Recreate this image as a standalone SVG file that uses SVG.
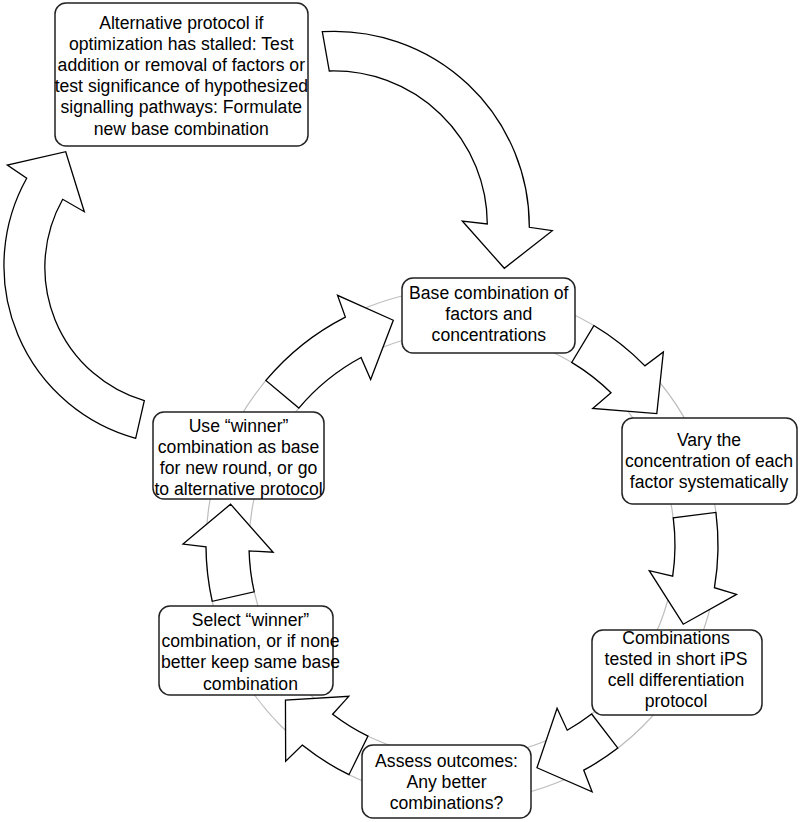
<svg xmlns="http://www.w3.org/2000/svg" width="800" height="822" viewBox="0 0 800 822">
<style>
.ring{fill:none;stroke:#bdbdbd;stroke-width:1.2}
.arr{fill:#fff;stroke:#000;stroke-width:1.3;stroke-linejoin:miter}
.box{fill:#fff;stroke:#222;stroke-width:1.5}
text{font-family:"Liberation Sans",Arial,sans-serif;font-size:17.6px;fill:#000;text-anchor:middle}
</style>
<rect width="800" height="822" fill="#fff"/>
<g id="ring">
<circle class="ring" cx="462" cy="545" r="256"/>
<circle class="ring" cx="462" cy="545" r="213"/>
</g>
<g id="connectors">
<path class="arr" d="M265.89,380.45 A256,256 0 0 1 345.38,317.11 L337.51,295.31 L393.29,320.27 L370.66,379.54 L361.02,357.46 A213,213 0 0 0 298.83,408.09 Z"/>
<path class="arr" d="M593.85,325.56 A256,256 0 0 1 644.90,365.89 L663.37,351.89 L656.82,413.59 L592.73,408.51 L611.03,392.82 A213,213 0 0 0 571.70,362.42 Z"/>
<path class="arr" d="M715.92,512.47 A256,256 0 0 1 714.42,587.69 L736.59,594.41 L683.25,624.22 L649.25,570.65 L672.71,576.12 A213,213 0 0 0 673.27,517.93 Z"/>
<path class="arr" d="M617.84,748.10 A256,256 0 0 1 583.76,770.19 L592.12,791.80 L536.96,767.73 L557.07,708.35 L567.21,730.20 A213,213 0 0 0 591.67,713.98 Z"/>
<path class="arr" d="M348.98,774.70 A256,256 0 0 1 302.29,745.07 L285.66,761.21 L285.45,700.10 L348.79,696.34 L332.63,714.21 A213,213 0 0 0 367.97,736.12 Z"/>
<path class="arr" d="M212.26,601.28 A256,256 0 0 1 206.01,546.79 L183.00,544.03 L230.57,504.19 L273.14,552.26 L249.08,550.95 A213,213 0 0 0 254.21,591.83 Z"/>
<path class="arr" d="M322.3,31.7 A195,195 0 0 1 529.3,227.3 L552.3,230.7 L504.3,268.3 L462.3,221 L487.3,224 A153.5,153.5 0 0 0 329.3,71 Z"/>
<path class="arr" d="M135.7,438.3 A179,179 0 0 1 26.7,178.3 L7.3,165 L65.7,151.7 L84.3,211.7 L62.7,199.3 A139,139 0 0 0 144.3,400.7 Z"/>
</g>
<g id="node-alternative">
<rect class="box" x="55" y="3" width="253" height="143" rx="11"/>
<text x="181.3" y="28.5">Alternative protocol if</text>
<text x="181.3" y="49.7">optimization has stalled: Test</text>
<text x="181.3" y="70.9">addition or removal of factors or</text>
<text x="181.3" y="92.1">test significance of hypothesized</text>
<text x="181.3" y="113.3">signalling pathways: Formulate</text>
<text x="181.3" y="134.5">new base combination</text>
</g>
<g id="node-base">
<rect class="box" x="402" y="278" width="173" height="75" rx="11"/>
<text x="488.8" y="298.7">Base combination of</text>
<text x="488.8" y="319.9">factors and</text>
<text x="488.8" y="341.1">concentrations</text>
</g>
<g id="node-vary">
<rect class="box" x="622" y="418" width="175" height="86" rx="11"/>
<text x="709" y="446">Vary the</text>
<text x="709" y="467.2">concentration of each</text>
<text x="709" y="488.4">factor systematically</text>
</g>
<g id="node-combinations">
<rect class="box" x="592" y="630" width="170" height="85" rx="11"/>
<text x="676" y="643.7">Combinations</text>
<text x="676" y="664.9">tested in short iPS</text>
<text x="676" y="686.1">cell differentiation</text>
<text x="676" y="707.3">protocol</text>
</g>
<g id="node-assess">
<rect class="box" x="362" y="745" width="169" height="73" rx="11"/>
<text x="446.5" y="766.7">Assess outcomes:</text>
<text x="446.5" y="787.9">Any better</text>
<text x="446.5" y="809.1">combinations?</text>
</g>
<g id="node-select">
<rect class="box" x="159" y="606" width="174" height="89" rx="11"/>
<text x="250.5" y="626">Select “winner”</text>
<text x="250.5" y="647.2">combination, or if none</text>
<text x="250.5" y="668.4">better keep same base</text>
<text x="250.5" y="689.6">combination</text>
</g>
<g id="node-use-winner">
<rect class="box" x="153" y="412" width="171" height="87" rx="11"/>
<text x="238.5" y="431.7">Use “winner”</text>
<text x="238.5" y="452.9">combination as base</text>
<text x="238.5" y="474.1">for new round, or go</text>
<text x="238.5" y="495.3">to alternative protocol</text>
</g>
</svg>
